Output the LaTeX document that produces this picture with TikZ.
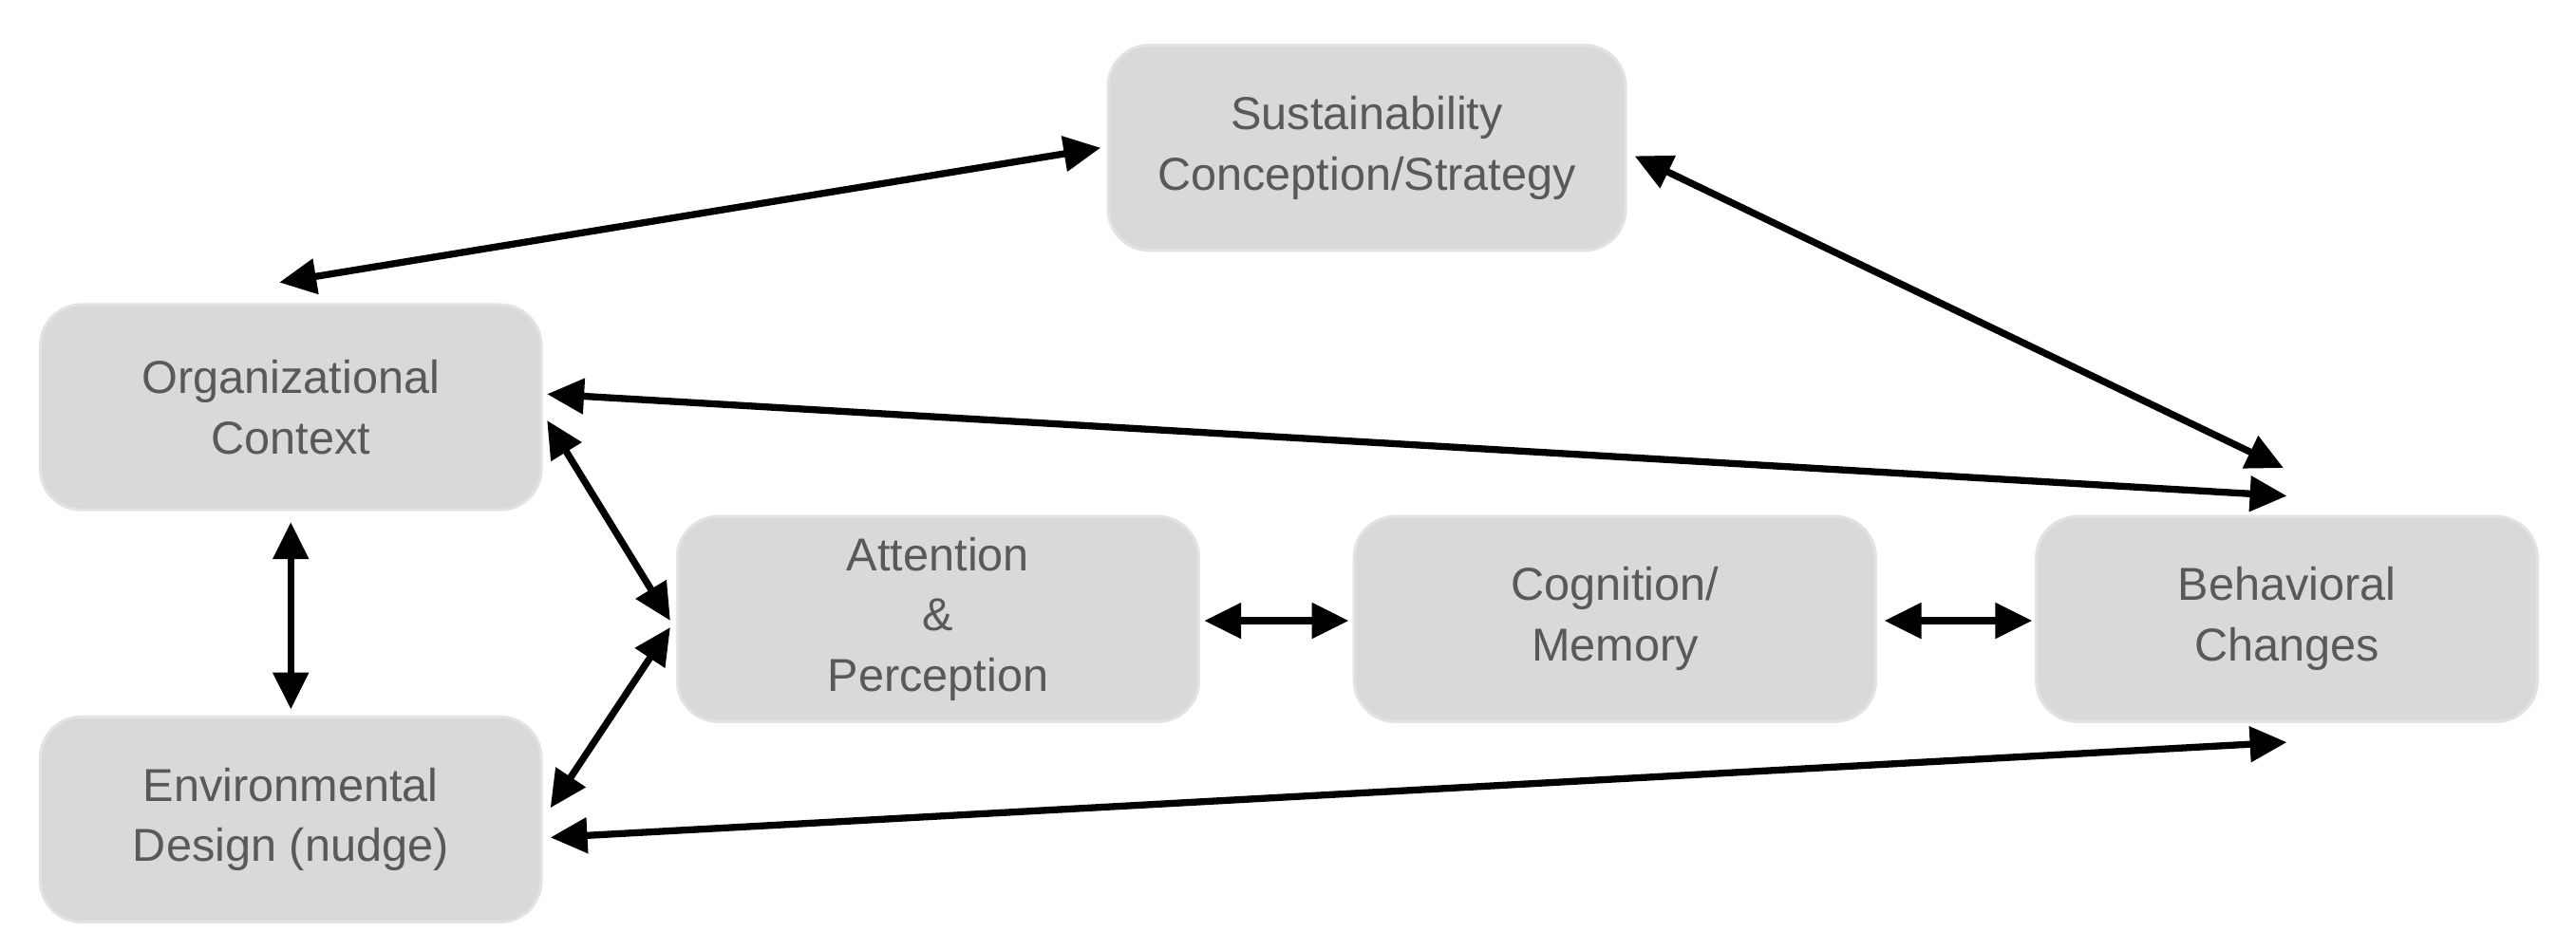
\documentclass[tikz,border=0pt]{standalone}
\usepackage{fontspec}
\setmainfont{Liberation Sans}
\usetikzlibrary{arrows.meta}
\definecolor{boxfill}{HTML}{D9D9D9}
\definecolor{boxline}{HTML}{E3E3E3}
\definecolor{txt}{HTML}{595959}
\begin{document}
\begin{tikzpicture}[x=0.02cm,y=-0.02cm,
  box/.style={draw=boxline,line width=1pt,fill=boxfill,rounded corners=0.5cm,minimum width=6.2cm,minimum height=2.5cm,align=center,text=txt,font=\fontsize{16}{21}\selectfont},
  conn/.style={line width=2.4pt,{Triangle[length=0.45cm,width=0.42cm]}-{Triangle[length=0.45cm,width=0.42cm]}}]
\useasboundingbox (0,0) rectangle (1568,578);
\node[box,minimum width=6.3cm] (sus) at (832,90) {Sustainability\\Conception/Strategy};
\node[box,minimum width=6.1cm] (org) at (177,248) {Organizational\\Context};
\node[box,minimum width=6.1cm] (env) at (177,499) {Environmental\\Design (nudge)};
\node[box,minimum width=6.35cm] (att) at (571,377) {Attention\\\&\\Perception};
\node[box,minimum width=6.35cm] (cog) at (983,377) {Cognition/\\Memory};
\node[box,minimum width=6.1cm] (beh) at (1392,377) {Behavioral\\Changes};
\coordinate (a1) at (170,172); \coordinate (a2) at (670,90);
\coordinate (b1) at (995,95); \coordinate (b2) at (1390,285);
\coordinate (c1) at (333,240); \coordinate (c2) at (1392,302);
\coordinate (d1) at (177,318); \coordinate (d2) at (177,432);
\coordinate (e1) at (333,256); \coordinate (e2) at (408,378);
\coordinate (f1) at (335,492); \coordinate (f2) at (408,382);
\coordinate (g1) at (733,378); \coordinate (g2) at (821,378);
\coordinate (h1) at (1147,378); \coordinate (h2) at (1237,378);
\coordinate (i1) at (335,510); \coordinate (i2) at (1392,452);
\draw[conn] (a1) -- (a2);
\draw[conn] (b1) -- (b2);
\draw[conn] (c1) -- (c2);
\draw[conn] (d1) -- (d2);
\draw[conn] (e1) -- (e2);
\draw[conn] (f1) -- (f2);
\draw[conn] (g1) -- (g2);
\draw[conn] (h1) -- (h2);
\draw[conn] (i1) -- (i2);
\end{tikzpicture}
\end{document}
